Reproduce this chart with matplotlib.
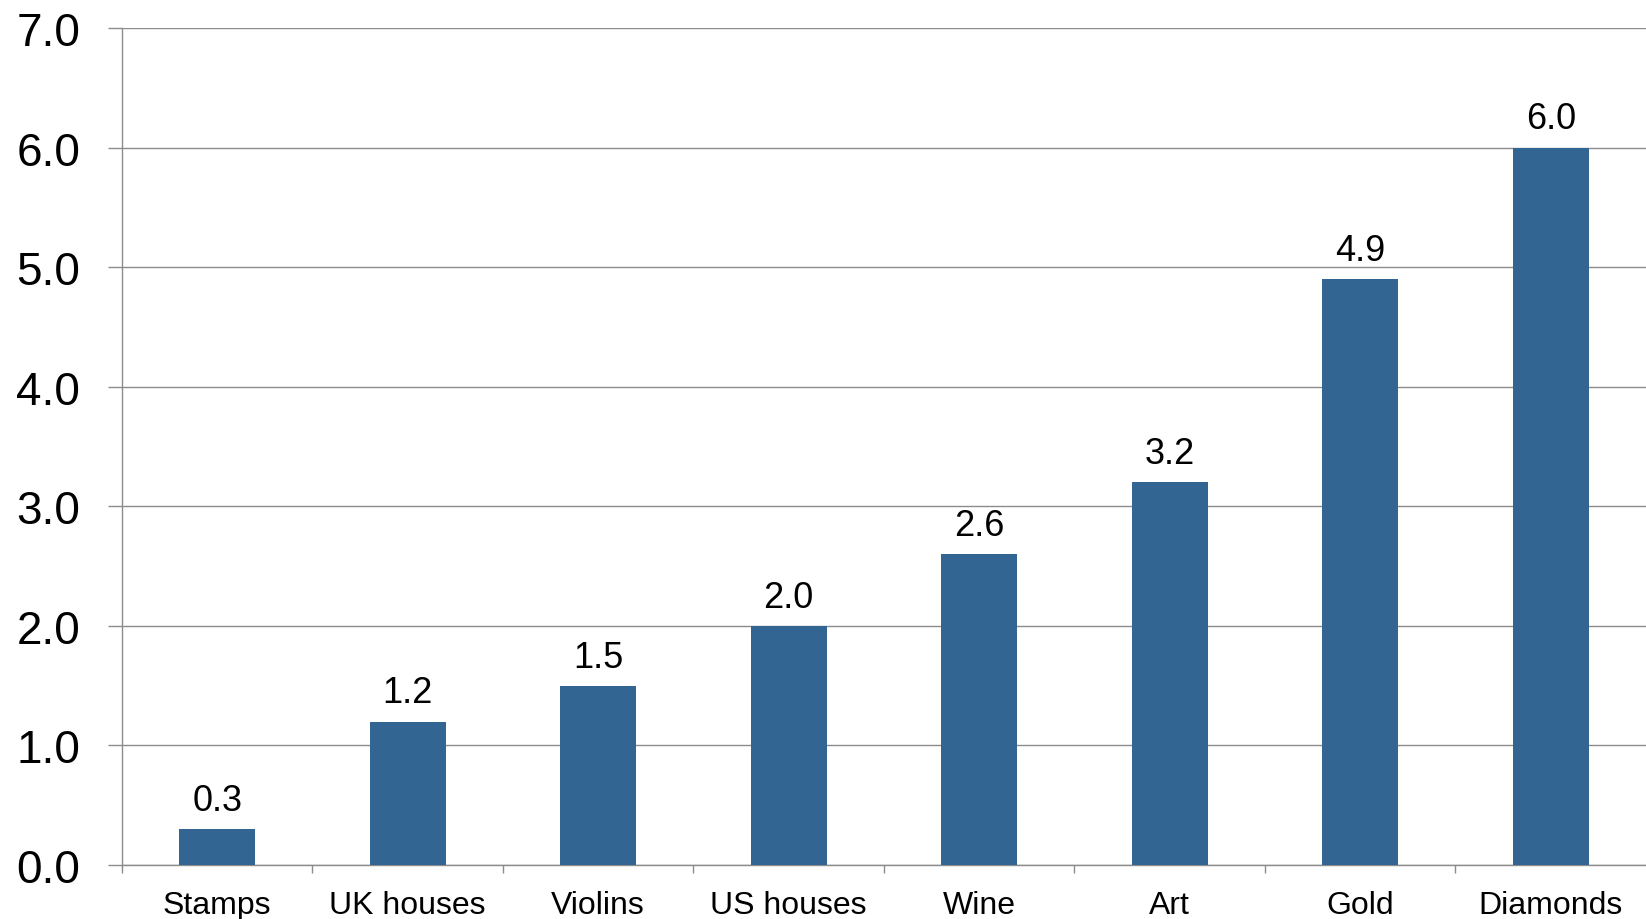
import numpy as np
import matplotlib
matplotlib.use('Agg')
import matplotlib.pyplot as plt

plt.rcParams['font.family'] = ['Liberation Sans', 'DejaVu Sans']

# data
categories = ['Stamps', 'UK houses', 'Violins', 'US houses', 'Wine', 'Art', 'Gold', 'Diamonds']
values = [0.3, 1.2, 1.5, 2.0, 2.6, 3.2, 4.9, 6.0]
yticks = [0.0, 1.0, 2.0, 3.0, 4.0, 5.0, 6.0, 7.0]

bar_color = '#326592'
line_color = '#8c8c8c'

fig = plt.figure(figsize=(16.46, 9.2), dpi=100)
ax = fig.add_axes([0.0741, 0.0587, 0.9259, 0.9098])

x = np.arange(len(categories))
bars = ax.bar(x, values, width=0.4, color=bar_color, zorder=3)

for xi, v in zip(x, values):
    ax.annotate(f'{v:.1f}', (xi, v), xytext=(0, 8), textcoords='offset points',
                ha='center', va='bottom', fontsize=26, color='black')

ax.set_xlim(-0.5, len(categories) - 0.5)
ax.set_ylim(0, 7)
ax.set_yticks(yticks)
ax.set_yticklabels([f'{t:.1f}' for t in yticks], fontsize=33)
ax.yaxis.grid(True, color=line_color, linewidth=1.0, zorder=0)

ax.set_xticks(x)
ax.set_xticklabels(categories, fontsize=23)
ax.set_xticks(np.arange(len(categories)) - 0.5, minor=True)
ax.tick_params(axis='x', which='major', length=0, pad=18)
ax.tick_params(axis='x', which='minor', length=6, width=1.0, color=line_color, direction='out')
ax.tick_params(axis='y', length=10, width=1.0, color=line_color, pad=20)

for side in ['top', 'right']:
    ax.spines[side].set_visible(False)
for side in ['left', 'bottom']:
    ax.spines[side].set_color(line_color)
    ax.spines[side].set_linewidth(1.0)

fig.savefig('out.png', dpi=100)
